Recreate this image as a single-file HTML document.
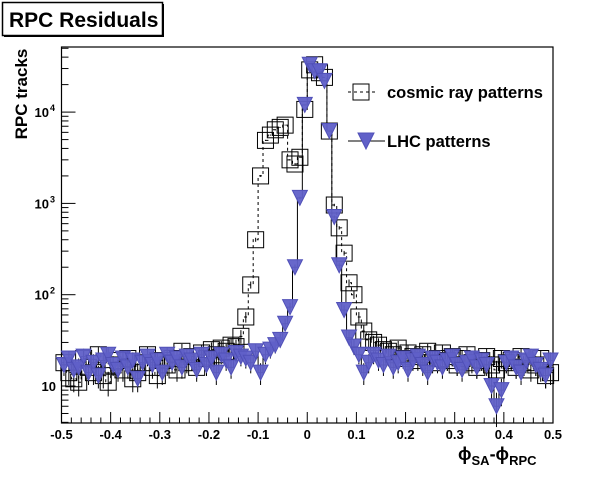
<!DOCTYPE html>
<html><head><meta charset="utf-8"><style>
body{margin:0;background:#fff;width:615px;height:472px;overflow:hidden;font-family:"Liberation Sans",Arial,sans-serif}
</style></head><body>
<svg id="c" width="615" height="472" xmlns="http://www.w3.org/2000/svg" font-family="Liberation Sans, Arial, sans-serif">
<rect x="0" y="0" width="615" height="472" fill="#fff"/>
<g>
<rect x="2.5" y="2.5" width="160" height="33" fill="#fff" stroke="#000" stroke-width="1.5"/>
<rect x="4" y="35" width="160" height="2" fill="#000"/><rect x="162" y="4" width="2" height="33" fill="#000"/>
<text x="9" y="27" font-size="21" font-weight="bold">RPC Residuals</text>
</g>
<text transform="translate(27,94) rotate(-90)" text-anchor="middle" font-size="17" font-weight="bold">RPC tracks</text>
<text x="458" y="460" font-size="18" font-weight="bold">ϕ<tspan font-size="13" dy="5">SA</tspan><tspan dy="-5">-ϕ</tspan><tspan font-size="13" dy="5">RPC</tspan></text>
<g id="axes"></g>
<g id="plot"></g>
<g>
<g>
<line x1="348" y1="92" x2="376" y2="92" stroke="#000" stroke-dasharray="3,3"/>
<rect x="353" y="84" width="16" height="16" fill="none" stroke="#000"/>
<text x="387" y="98" font-size="16.5" font-weight="bold">cosmic ray patterns</text></g>
<g>
<line x1="348" y1="141" x2="385" y2="141" stroke="#000"/>
<polygon points="358,133 374,133 366,149" fill="#6060c8" stroke="#5050b8"/>
<text x="387" y="147" font-size="16.5" font-weight="bold">LHC patterns</text></g>
</g>
</svg>
<script>
const binCenters = [];
for (let i = 0; i < 100; i++) binCenters.push(-0.495 + i * 0.01);
const cosmicLeft = [18,14,12,11,20,16,14,22,13,11,17,19,15,20,12,14,18,22,16,13,19,17,20,15,24,18,21,16,23,20,25,22,26,24,28,27,35];
const cosmicMid = [57,128,400,2000,4900,5600,6400,6800,7200,3000,2700,3200,10700,29000,33000,27000,24000,6200,960,540,285,135,100,57,40,32];
const cosmicRight = [30,28,25,24,22,26,20,23,21,19,22,24,18,20,23,19,21,17,20,22,18,16,19,21,17,15,20,18,19,16,21,18,15,17,20,13,14];
const lhcLeft = [17,20,15,16,21,14,18,13,19,22,17,15,20,16,19,12,18,21,17,19,14,22,18,20,16,21,19,15,22,17,20,14,22,19,16,23,21];
const lhcMid = [20,18,24,14,22,25,28,32,48,73,200,1150,12000,33000,28000,28000,22000,6200,710,210,68,34,27,22,14,18];
const lhcRight = [22,19,17,21,16,18,20,15,19,21,17,14,20,18,16,19,21,17,15,18,20,16,19,17,10,6,9,18,20,16,14,19,21,17,15,13,19];
const cosmic = cosmicLeft.concat(cosmicMid, cosmicRight);
const lhc = lhcLeft.concat(lhcMid, lhcRight);
const xTicks = [-0.5,-0.4,-0.3,-0.2,-0.1,0,0.1,0.2,0.3,0.4,0.5];
const yDecades = [1,2,3,4];

const L=61.5,R=553,T=47,B=423;
const xs = v => L + (v + 0.5) * (R - L);
const ys = v => 386 - (Math.log10(v) - 1) * 91.3;
const NS="http://www.w3.org/2000/svg";
function mk(tag, attrs, parent){const e=document.createElementNS(NS,tag);for(const k in attrs)e.setAttribute(k,attrs[k]);parent.appendChild(e);return e;}
const axes=document.getElementById('axes'), plot=document.getElementById('plot');

const frame=mk('rect',{x:L,y:T,width:R-L,height:B-T,fill:'none',stroke:'#000','stroke-width':1.2},axes);


for(let i=0;i<=50;i++){const v=-0.5+i*0.02;const X=xs(v);const major=(i%5===0);
 mk('line',{x1:X,y1:B,x2:X,y2:B-(major?11:5.5),stroke:'#000'},axes);}
xTicks.forEach(v=>{const t=mk('text',{x:xs(v),y:B+16,'font-size':13,'font-weight':'bold','text-anchor':'middle'},axes);
 t.textContent=(v===0?'0':(Math.round(v*10)/10).toString());
 
 });
for(let d=0;d<=4;d++){for(let m=1;m<=9;m++){const v=Math.pow(10,d)*m;const Y=ys(v);if(Y<T||Y>B)continue;
 mk('line',{x1:L,y1:Y,x2:L+(m===1?14:7),y2:Y,stroke:'#000'},axes);}}
yDecades.forEach(d=>{const Y=ys(Math.pow(10,d));const t=mk('text',{x:d===1?56:49,y:Y+5,'font-size':13,'font-weight':'bold','text-anchor':'end'},axes);
 t.textContent='10';
 
 
 if(d>1){const s=mk('text',{x:50,y:Y-1,'font-size':9,'font-weight':'bold'},axes);s.textContent=String(d);}});

function drawSeries(vals, name, dashed){
 const g=mk('g',{},plot);
 
 
 let d='';
 vals.forEach((v,i)=>{const x0=xs(binCenters[i]-0.005),x1=xs(binCenters[i]+0.005),Y=ys(v);
  d+=(i===0?'M'+x0+','+Y:'L'+x0+','+Y)+'L'+x1+','+Y;});
 mk('path',{d:d,fill:'none',stroke:'#000','stroke-width':1,'stroke-dasharray':dashed?'3,3':'none'},g);
 vals.forEach((v,i)=>{const X=xs(binCenters[i]),e=Math.sqrt(v);
  mk('line',{x1:X,y1:ys(v+e),x2:X,y2:ys(Math.max(v-e,0.5)),stroke:'#000'},g);});
 vals.forEach((v,i)=>{const X=xs(binCenters[i]),Y=ys(v);let m;
  if(dashed){m=mk('rect',{x:X-8,y:Y-8,width:16,height:16,fill:'none',stroke:'#000'},g);}
  else{m=mk('polygon',{points:(X-7.5)+','+(Y-7.5)+' '+(X+7.5)+','+(Y-7.5)+' '+X+','+(Y+7.5),fill:'#6060c8','fill-opacity':0.95,stroke:'#5050b8'},g);}
  
  });
}
drawSeries(cosmic,'cosmic',true);
drawSeries(lhc,'lhc',false);
</script>
</body></html>
